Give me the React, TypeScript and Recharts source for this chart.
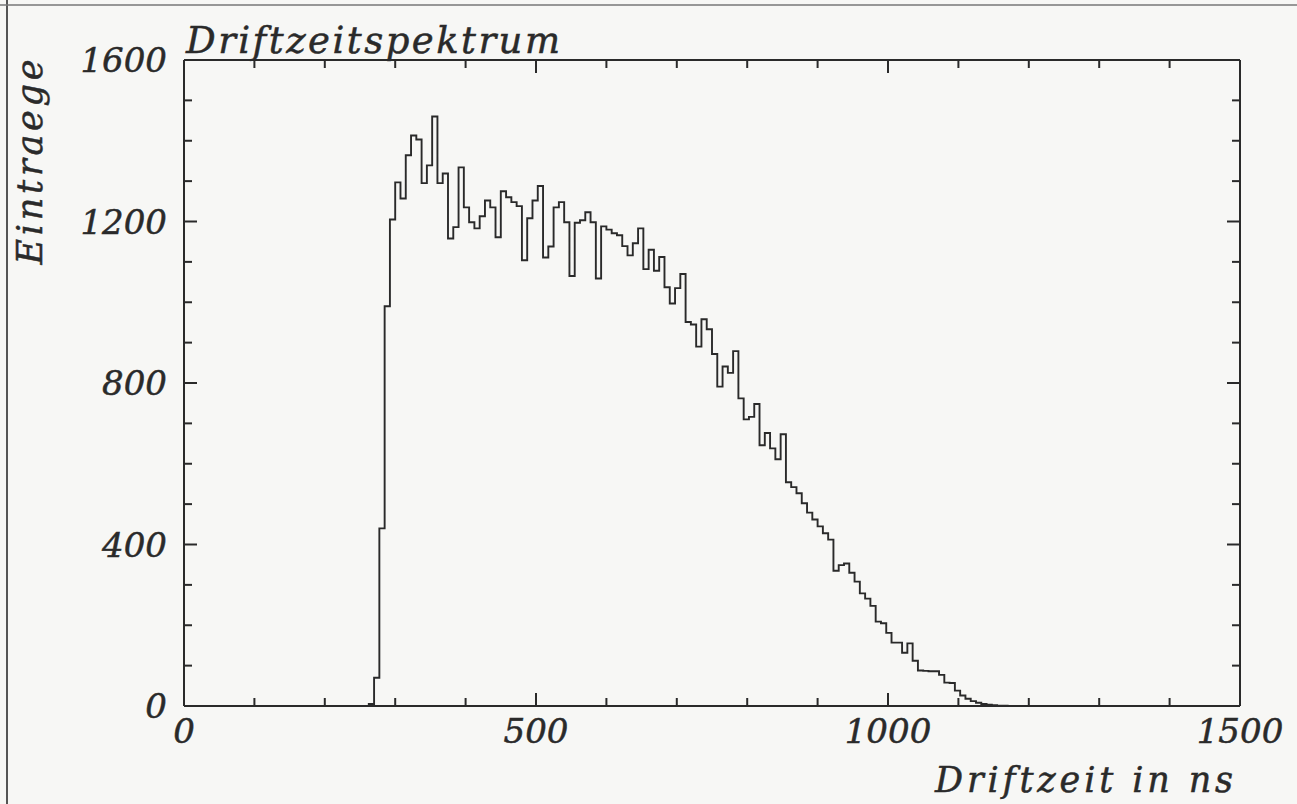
import { ComposedChart, Line, XAxis, YAxis, Customized } from 'recharts'

const INK = '#2a2a2a'
const FONT = '"DejaVu Serif", "Liberation Serif", serif'

// histogram: 7.5 ns bins, first filled bin is #35
const BIN_WIDTH = 7.5
const FIRST_BIN = 35
const counts = [
    5, 70, 440, 990, 1205, 1297, 1257, 1364, 1413, 1403,
    1295, 1339, 1460, 1295, 1319, 1158, 1186, 1334, 1235, 1198,
    1183, 1213, 1252, 1235, 1161, 1275, 1260, 1248, 1238, 1104,
    1208, 1252, 1288, 1111, 1138, 1235, 1248, 1198, 1065, 1197,
    1203, 1223, 1198, 1059, 1188, 1180, 1171, 1166, 1139, 1116,
    1146, 1183, 1082, 1130, 1078, 1112, 1037, 997, 1035, 1070,
    951, 945, 890, 958, 933, 872, 791, 841, 825, 879,
    762, 710, 716, 748, 646, 676, 638, 611, 673, 554,
    542, 527, 502, 479, 462, 445, 428, 412, 335, 349,
    353, 330, 308, 279, 266, 248, 209, 205, 181, 157,
    157, 132, 155, 112, 88, 87, 86, 86, 77, 58,
    57, 38, 26, 18, 12, 8, 5, 3, 2, 1, 1
]

const xTicks = [0, 100, 200, 300, 400, 500, 600, 700, 800, 900, 1000, 1100, 1200, 1300, 1400, 1500]
const xLabels = [0, 500, 1000, 1500]
const yTicks = [0, 100, 200, 300, 400, 500, 600, 700, 800, 900, 1000, 1100, 1200, 1300, 1400, 1500, 1600]
const yLabels = [0, 400, 800, 1200, 1600]

const data: { t: number; n: number }[] = [{ t: 0, n: 0 }]
counts.forEach((n, i) => data.push({ t: (FIRST_BIN + i) * BIN_WIDTH, n }))
data.push({ t: (FIRST_BIN + counts.length) * BIN_WIDTH, n: 0 })
data.push({ t: 1500, n: 0 })

// scanned-plot look: italic serif with a slightly heavier stroke
const textStyle = {
    fontFamily: FONT, fontStyle: 'italic' as const, fontSize: 34, fill: INK,
    stroke: INK, strokeWidth: 0.5
}

function BottomTick({ x, y, payload }: any) {
    const major = xLabels.includes(payload.value)
    return (
        <g>
            <line x1={x} x2={x} y1={y} y2={y - (major ? 13 : 8)} stroke={INK} strokeWidth={2} />
            {major && <text x={x} y={y + 37} textAnchor="middle" {...textStyle}>{payload.value}</text>}
        </g>
    )
}

function TopTick({ x, y, payload }: any) {
    const major = xLabels.includes(payload.value)
    return <line x1={x} x2={x} y1={y} y2={y + (major ? 13 : 8)} stroke={INK} strokeWidth={2} />
}

function LeftTick({ x, y, payload }: any) {
    const major = yLabels.includes(payload.value)
    return (
        <g>
            <line x1={x} x2={x + (major ? 13 : 8)} y1={y} y2={y} stroke={INK} strokeWidth={2} />
            {major && <text x={x - 17} y={y + 12} textAnchor="end" {...textStyle}>{payload.value}</text>}
        </g>
    )
}

function RightTick({ x, y, payload }: any) {
    const major = yLabels.includes(payload.value)
    return <line x1={x} x2={x - (major ? 13 : 8)} y1={y} y2={y} stroke={INK} strokeWidth={2} />
}

function Labels() {
    return (
        <g>
            <line x1={7} x2={7} y1={0} y2={804} stroke="#555" strokeWidth={2} />
            <line x1={0} x2={1297} y1={5} y2={5} stroke="#777" strokeWidth={1.5} />
            <text x={186} y={53} textLength={374} lengthAdjust="spacing" {...textStyle} fontSize={37}>
                Driftzeitspektrum
            </text>
            <text x={935} y={792} textLength={298} lengthAdjust="spacing" {...textStyle} fontSize={35}>
                Driftzeit in ns
            </text>
            <text transform="translate(42,162) rotate(-90)" textAnchor="middle" textLength={205}
                lengthAdjust="spacing" {...textStyle} fontSize={35}>
                Eintraege
            </text>
        </g>
    )
}

export default function App() {
    return (
        <div style={{ position: 'fixed', inset: 0, background: '#f7f7f5' }}>
            <ComposedChart
                width={1297}
                height={804}
                data={data}
                margin={{ top: 59, right: 56, left: 183, bottom: 97 }}
            >
                <XAxis xAxisId="b" dataKey="t" type="number" domain={[0, 1500]} ticks={xTicks}
                    height={1} tickSize={0} tickMargin={0} tickLine={false} interval={0}
                    axisLine={{ stroke: INK, strokeWidth: 2 }} tick={<BottomTick />} />
                <XAxis xAxisId="t" orientation="top" dataKey="t" type="number" domain={[0, 1500]} ticks={xTicks}
                    height={1} tickSize={0} tickMargin={0} tickLine={false} interval={0}
                    axisLine={{ stroke: INK, strokeWidth: 2 }} tick={<TopTick />} />
                <YAxis yAxisId="l" type="number" domain={[0, 1600]} ticks={yTicks}
                    width={1} tickSize={0} tickMargin={0} tickLine={false} interval={0}
                    axisLine={{ stroke: INK, strokeWidth: 2 }} tick={<LeftTick />} />
                <YAxis yAxisId="r" orientation="right" type="number" domain={[0, 1600]} ticks={yTicks}
                    width={1} tickSize={0} tickMargin={0} tickLine={false} interval={0}
                    axisLine={{ stroke: INK, strokeWidth: 2 }} tick={<RightTick />} />
                <Line xAxisId="t" yAxisId="r" dataKey="n" type="stepAfter" stroke="none" dot={false}
                    isAnimationActive={false} />
                <Line xAxisId="b" yAxisId="l" dataKey="n" type="stepAfter" stroke={INK} strokeWidth={1.9}
                    dot={false} isAnimationActive={false} />
                <Customized component={Labels} />
            </ComposedChart>
        </div>
    )
}
